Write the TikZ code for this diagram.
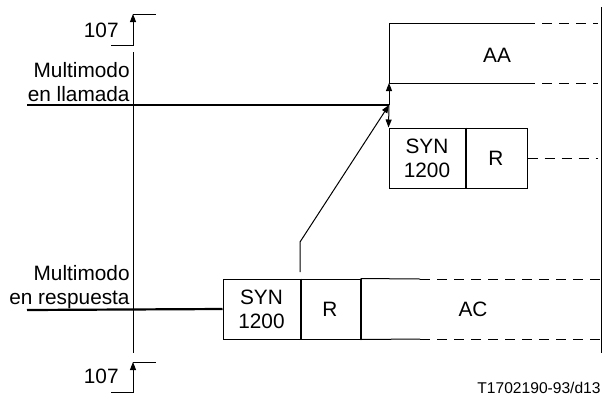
\documentclass[tikz,border=0pt]{standalone}
\usepackage{fontspec}
\setmainfont{Liberation Sans}
\usetikzlibrary{arrows.meta}
\begin{document}
\begin{tikzpicture}[x=0.5pt,y=-0.5pt,
		font=\fontsize{10.4}{12}\selectfont,
		thin line/.style={line width=0.5pt},
		thick line/.style={line width=1.1pt},
		dash line/.style={line width=0.5pt, dash pattern=on 5pt off 3.5pt},
		cell/.style={draw, line width=0.5pt, inner sep=0pt, minimum height=30pt, align=center},
		tip/.style={-{Triangle[length=4pt,width=3pt]}},
		lbl/.style={inner sep=0pt, align=right, anchor=east}]
	\useasboundingbox (0,0) rectangle (606,398);
	
	% time axis with the 107 marks
	\coordinate (axtop) at (133,52);
	\coordinate (axbot) at (133,353);
	\draw[thin line] (axtop) -- (axbot);
	
	\draw[thin line, tip] (111,45) -- (133,45) -- (133,14);
	\draw[thin line] (133,14) -- (156,14);
	\node[inner sep=0pt, anchor=east] (t107a) at (119,30) {107};
	
	\draw[thin line, tip] (111,392) -- (133,392) -- (133,362);
	\draw[thin line] (133,362) -- (156,362);
	\node[inner sep=0pt, anchor=east] (t107b) at (119,376) {107};
	
	% calling side
	\node[lbl] (call) at (130,82) {Multimodo\\en llamada};
	\coordinate (callin) at (27,105);
	\coordinate (meet) at (389,105);
	\draw[thick line] (callin) -- (meet);
	
	\coordinate (aatl) at (389,23);
	\coordinate (aabl) at (389,83);
	\draw[thin line] (aatl) -- (525,23);
	\draw[dash line] (525,23) -- (598,23);
	\draw[thin line] (aabl) -- (525,83);
	\draw[dash line] (525,83) -- (598,83);
	\draw[thin line] (aatl) -- (aabl);
	\node (aa) at (497,55) {AA};
	
	\node[cell, minimum width=38pt] (synA) at (427,158) {SYN\\1200};
	\node[cell, minimum width=31pt] (rA) at (496,158) {R};
	\draw[line width=1pt] (synA.north east) -- (synA.south east);
	\draw[dash line] (rA.east) -- (598,158);
	
	\draw[thin line, tip] (meet) -- (aabl);
	\draw[thin line, tip] (meet) -- (synA.north west);
	
	% answering side
	\node[lbl] (answer) at (130,287) {Multimodo\\en respuesta};
	\coordinate (ansin) at (27,310);
	\node[cell, minimum width=38.5pt] (synB) at (261.5,309) {SYN\\1200};
	\node[cell, minimum width=30pt] (rB) at (330,309) {R};
	\draw[line width=1pt] (synB.north east) -- (synB.south east);
	\draw[line width=1pt] (rB.north east) -- (rB.south east);
	\draw[thick line] (ansin) -- (synB.west);
	
	\draw[thin line] (rB.north east) -- (420,279);
	\draw[dash line] (420,279) -- (600,279);
	\draw[thin line] (rB.south east) -- (420,339);
	\draw[dash line] (420,339) -- (600,339);
	\node (ac) at (473,309) {AC};
	
	\coordinate (kink) at (300,242);
	\draw[thin line, tip] (300,272) -- (kink) -- (meet);
	
	% right edge
	\draw[thin line] (601,7) -- (601,353);
	
	\node[inner sep=0pt, anchor=east, font=\fontsize{7.8}{9}\selectfont] (ref) at (601,388) {T1702190-93/d13};
\end{tikzpicture}
\end{document}
